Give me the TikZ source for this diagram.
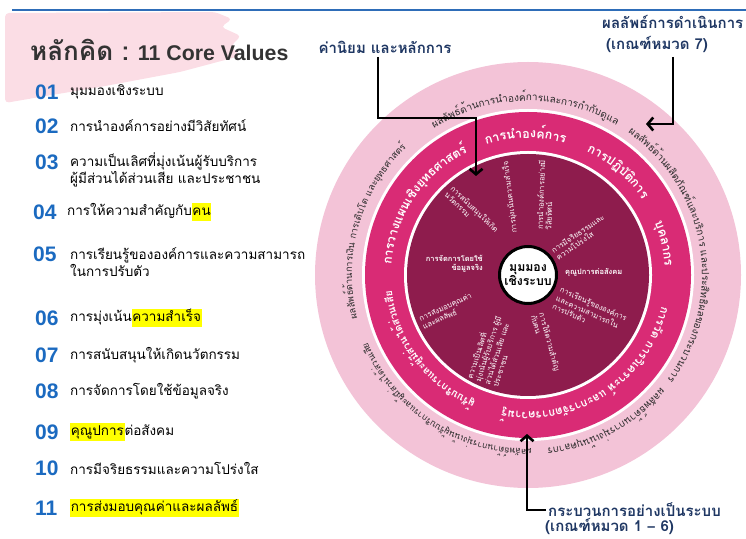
\documentclass[tikz,border=0pt]{standalone}
\usepackage{fontspec}
\usetikzlibrary{decorations.text,arrows.meta}
\newfontfamily\thai[Script=Thai]{Loma}
\newfontfamily\numfont{Liberation Sans}

\definecolor{ringlight}{HTML}{F3C3D7}
\definecolor{ringmid}{HTML}{D92B75}
\definecolor{ringdark}{HTML}{8E1C4D}
\definecolor{numblue}{HTML}{1B6AC0}
\definecolor{navy}{HTML}{1F3763}
\definecolor{topline}{HTML}{2E6DB8}
\definecolor{banner}{HTML}{FBDDE5}
\definecolor{hlyellow}{HTML}{FFFF00}
\definecolor{titlegray}{HTML}{333333}
\definecolor{outertext}{HTML}{2A2A2A}

% yellow marker behind a word
\newcommand{\hl}[1]{\begingroup\setlength{\fboxsep}{0.6pt}\colorbox{hlyellow}{\strut #1}\endgroup}
% text set along a circle round the wheel centre, centred on angle #2, read clockwise
\newcommand{\ringtext}[4]{%
  \path[decorate,decoration={text along path,text align=center,text={|#3|#4}}]
    ([shift={(528,263)}]#2+75:#1) arc[start angle=#2+75,end angle=#2-75,radius=#1];}

\begin{document}
\begin{tikzpicture}[x=1pt,y=1pt,
  num/.style={anchor=west,inner sep=0pt,font=\numfont\bfseries\fontsize{21}{21}\selectfont,text=numblue},
  item/.style={anchor=west,inner sep=0pt,align=left,font=\thai\fontsize{13.5}{17}\selectfont},
  callout/.style={inner sep=0pt,font=\thai\bfseries\fontsize{15}{18}\selectfont,text=navy},
  spoke/.style={inner sep=0pt,align=left,text=white,font=\thai\fontsize{7.5}{8.6}\selectfont},
  conn/.style={line width=2.6pt,-{Straight Barb[length=5.5pt,width=13pt]}},
]
\useasboundingbox (0,0) rectangle (746,538);

% header rule and brush banner
\draw[topline,line width=2pt] (12,528) -- (746,528);
\fill[banner,rounded corners=4pt] (5,525) -- (215,526) -- (232,519) -- (221,511) -- (241,502)
  -- (231,492) -- (240,482) -- (180,466) -- (100,451) -- (40,441) -- (5,435) -- cycle;

\node[anchor=west,inner sep=0pt,text=titlegray] (title) at (30,488)
  {\thai\bfseries\fontsize{26}{28}\selectfont หลักคิด :\ {\numfont\bfseries\fontsize{21.3}{24}\selectfont 11 Core Values}};

% the eleven core values
\node[num] (n01) at (35,446) {01};
\node[item] (t01) at (70,446) {มุมมองเชิงระบบ};
\node[num] (n02) at (35,412) {02};
\node[item] (t02) at (70,412) {การนำองค์การอย่างมีวิสัยทัศน์};
\node[num] (n03) at (35,376) {03};
\node[item] (t03) at (70,368) {ความเป็นเลิศที่มุ่งเน้นผู้รับบริการ\\ผู้มีส่วนได้ส่วนเสีย และประชาชน};
\node[num] (n04) at (33,326) {04};
\node[item] (t04) at (67,326) {การให้ความสำคัญกับ\hl{คน}};
\node[num] (n05) at (33,284) {05};
\node[item] (t05) at (70,276) {การเรียนรู้ขององค์การและความสามารถ\\ในการปรับตัว};
\node[num] (n06) at (35,220) {06};
\node[item] (t06) at (70,220) {การมุ่งเน้น\hl{ความสำเร็จ}};
\node[num] (n07) at (35,183) {07};
\node[item] (t07) at (70,183) {การสนับสนุนให้เกิดนวัตกรรม};
\node[num] (n08) at (35,147) {08};
\node[item] (t08) at (70,147) {การจัดการโดยใช้ข้อมูลจริง};
\node[num] (n09) at (35,106) {09};
\node[item] (t09) at (70,106) {\hl{คุณูปการ}ต่อสังคม};
\node[num] (n10) at (35,70) {10};
\node[item] (t10) at (70,70) {การมีจริยธรรมและความโปร่งใส};
\node[num] (n11) at (35,30) {11};
\node[item] (t11) at (70,30) {\hl{การส่งมอบคุณค่าและผลลัพธ์}};

% the wheel
\coordinate (C) at (528,263);
\fill[ringlight] (C) circle[radius=213];
\fill[white] (C) circle[radius=166];
\fill[ringmid] (C) circle[radius=163];
\fill[white] (C) circle[radius=124];
\fill[ringdark] (C) circle[radius=121];

% results ring
\ringtext{174}{91}{\thai\fontsize{10}{12}\selectfont\color{outertext}}{ผลลัพธ์ด้านการนำองค์การและการกำกับดูแล}
\ringtext{174}{9}{\thai\fontsize{10}{12}\selectfont\color{outertext}}{ผลลัพธ์ด้านผลิตภัณฑ์และบริการ และประสิทธิผลของกระบวนการ}
\ringtext{174}{-62}{\thai\fontsize{10}{12}\selectfont\color{outertext}}{ผลลัพธ์ด้านการมุ่งเน้นบุคลากร}
\ringtext{174}{-123}{\thai\fontsize{8.8}{11}\selectfont\color{outertext}}{ผลลัพธ์ด้านการมุ่งเน้นผู้รับบริการและผู้มีส่วนได้ส่วนเสีย}
\ringtext{176}{164}{\thai\fontsize{9.3}{11}\selectfont\color{outertext}}{ผลลัพธ์ด้านการเงิน การเติบโต และยุทธศาสตร์}

% process ring
\ringtext{137}{91}{\thai\bfseries\fontsize{12.5}{15}\selectfont\color{white}}{การนำองค์การ}
\ringtext{137}{49}{\thai\bfseries\fontsize{12.5}{15}\selectfont\color{white}}{การปฏิบัติการ}
\ringtext{137}{13}{\thai\bfseries\fontsize{12.5}{15}\selectfont\color{white}}{บุคลากร}
\ringtext{137}{-57}{\thai\bfseries\fontsize{11.3}{13}\selectfont\color{white}}{การวัด การวิเคราะห์ และการจัดการความรู้}
\ringtext{137}{-143}{\thai\bfseries\fontsize{10.3}{12}\selectfont\color{white}}{ผู้รับบริการและผู้มีส่วนได้ส่วนเสีย}
\ringtext{137}{146}{\thai\bfseries\fontsize{12.3}{15}\selectfont\color{white}}{การวางแผนเชิงยุทธศาสตร์}

% core values round the hub
\node[spoke,rotate=97] (s06) at (510,341) {การมุ่งเน้นความสำเร็จ};
\node[spoke,rotate=88] (s02) at (545,343) {การนำองค์การอย่างมี\\วิสัยทัศน์};
\node[spoke,rotate=34] (s10) at (580,301) {การมีจริยธรรมและ\\ความโปร่งใส};
\node[spoke,anchor=west,font=\thai\bfseries\fontsize{7.5}{8.6}\selectfont] (s09) at (565,266) {คุณูปการต่อสังคม};
\node[spoke,rotate=-24] (s05) at (590,226) {การเรียนรู้ขององค์การ\\และความสามารถใน\\การปรับตัว};
\node[spoke,rotate=-75] (s04) at (546,195) {การให้ความสำคัญ\\กับคน};
\node[spoke,rotate=72] (s03) at (492,188) {ความเป็นเลิศที่\\มุ่งเน้นผู้รับบริการ ผู้มี\\ส่วนได้ส่วนเสีย และ\\ประชาชน};
\node[spoke,rotate=24] (s11) at (447,227) {การส่งมอบคุณค่า\\และผลลัพธ์};
\node[spoke,anchor=east,align=right,font=\thai\bfseries\fontsize{7.5}{8.6}\selectfont] (s08) at (483,274) {การจัดการโดยใช้\\ข้อมูลจริง};
\node[spoke,rotate=-44] (s07) at (472,326) {การสนับสนุนให้เกิด\\นวัตกรรม};

\node[circle,draw=black,line width=3pt,fill=white,minimum size=57pt,inner sep=0pt,align=center,
  font=\thai\bfseries\fontsize{12.3}{14.5}\selectfont] (hub) at (C) {มุมมอง\\เชิงระบบ};

% callouts
\node[callout] (lblA) at (385,491) {ค่านิยม และหลักการ};
\node[callout,anchor=west] (lblR1) at (602,516) {ผลลัพธ์การดำเนินการ};
\node[callout] (lblR2) at (657,493) {(เกณฑ์หมวด 7)};
\node[callout,anchor=west] (lblB1) at (548,28) {กระบวนการอย่างเป็นระบบ};
\node[callout,anchor=west] (lblB2) at (545,11.5) {(เกณฑ์หมวด 1 {\numfont\bfseries –} 6)};

\coordinate (a1s) at (378,481);
\coordinate (a1k) at (476,420);
\coordinate (a1e) at (476,362);
\draw[conn] (a1s) |- (a1k) -- (a1e);
\coordinate (a2s) at (673,481);
\coordinate (a2e) at (646,414);
\draw[conn] (a2s) |- (a2e);
\coordinate (a3s) at (546,28);
\coordinate (a3e) at (527,104);
\draw[conn] (a3s) -| (a3e);
\end{tikzpicture}
\end{document}
